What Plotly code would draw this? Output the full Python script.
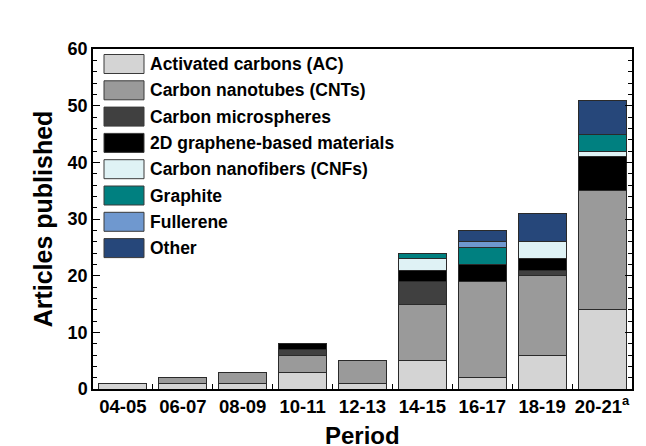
import plotly.graph_objects as go

periods = ["04-05", "06-07", "08-09", "10-11", "12-13", "14-15", "16-17", "18-19", "20-21<sup>a</sup>"]

series_names = [
    "Activated carbons (AC)",
    "Carbon nanotubes (CNTs)",
    "Carbon microspheres",
    "2D graphene-based materials",
    "Carbon nanofibers (CNFs)",
    "Graphite",
    "Fullerene",
    "Other",
]

activated_carbons = [1, 1, 1, 3, 1, 5, 2, 6, 14]
carbon_nanotubes = [0, 1, 2, 3, 4, 10, 17, 14, 21]
carbon_microspheres = [0, 0, 0, 1, 0, 4, 0, 1, 0]
graphene_2d = [0, 0, 0, 1, 0, 2, 3, 2, 6]
carbon_nanofibers = [0, 0, 0, 0, 0, 2, 0, 3, 1]
graphite = [0, 0, 0, 0, 0, 1, 3, 0, 3]
fullerene = [0, 0, 0, 0, 0, 0, 1, 0, 0]
other = [0, 0, 0, 0, 0, 0, 2, 5, 6]

series_values = [activated_carbons, carbon_nanotubes, carbon_microspheres, graphene_2d,
                 carbon_nanofibers, graphite, fullerene, other]
colors = ["#d4d4d4", "#9a9a9a", "#404040", "#000000", "#dff2f5", "#008080", "#6f98cf", "#26477a"]

FONT = "Liberation Sans, Arial, sans-serif"

# page body has an 8px margin; work in page pixels then shift
OFF = 8
FIG_W, FIG_H = 646 - OFF, 446 - OFF
L, R, T, B = 93 - OFF, 632 - OFF, 49 - OFF, 389 - OFF
W, H = R - L, B - T
def px(x):
    return (x - OFF - L) / W
def py(y):
    return (B - (y - OFF)) / H

fig = go.Figure()
for name, vals, col in zip(series_names, series_values, colors):
    fig.add_trace(go.Bar(
        x=periods,
        y=[v if v else None for v in vals],
        name=name,
        marker=dict(color=col, line=dict(color="#2a2a2a", width=1)),
        showlegend=False,
    ))

# custom legend (large swatches), positions in page pixels
for i, (name, col) in enumerate(zip(series_names, colors)):
    yc = 64 + 26.3 * i
    fig.add_shape(type="rect", xref="paper", yref="paper",
                  x0=px(104), x1=px(144), y0=py(yc + 9.5), y1=py(yc - 9.5),
                  fillcolor=col, line=dict(color="#3a3a3a", width=1))
    fig.add_annotation(xref="paper", yref="paper", x=px(148), y=py(yc),
                       text="<b>%s</b>" % name, showarrow=False,
                       xanchor="left", yanchor="middle",
                       font=dict(family=FONT, size=17.5, color="black"))

# x-axis title
fig.add_annotation(xref="paper", yref="paper", x=px(362), y=py(435),
                   text="<b>Period</b>", showarrow=False,
                   xanchor="center", yanchor="middle",
                   font=dict(family=FONT, size=24, color="black"))

fig.update_layout(
    barmode="stack",
    bargap=0.2,
    width=FIG_W, height=FIG_H,
    margin=dict(l=L, r=FIG_W - R, t=T, b=FIG_H - B),
    plot_bgcolor="white",
    paper_bgcolor="white",
    font=dict(family=FONT, color="black"),
)
fig.update_xaxes(
    type="category",
    range=[-0.5, 8.5],
    automargin=False,
    showline=True, linecolor="black", linewidth=1.5, mirror=True,
    ticks="inside", ticklen=5, tickwidth=1.2, tickcolor="black",
    tickson="boundaries",
    tickangle=0,
    tickfont=dict(family=FONT, size=18.5, color="black"),
    tickprefix="<b>", ticksuffix="</b>",
    showgrid=False,
)
fig.update_yaxes(
    range=[0, 60],
    dtick=10,
    showline=True, linecolor="black", linewidth=1.5, mirror="ticks",
    ticks="inside", ticklen=7, tickwidth=1.2, tickcolor="black",
    minor=dict(dtick=2, ticks="inside", ticklen=4, tickwidth=1, tickcolor="black", showgrid=False),
    tickfont=dict(family=FONT, size=18, color="black"),
    tickprefix="<b>", ticksuffix="</b>",
    title=dict(text="<b>Articles published</b>", font=dict(family=FONT, size=25, color="black"), standoff=8),
    showgrid=False,
    zeroline=False,
)

fig.write_html("out.html")
